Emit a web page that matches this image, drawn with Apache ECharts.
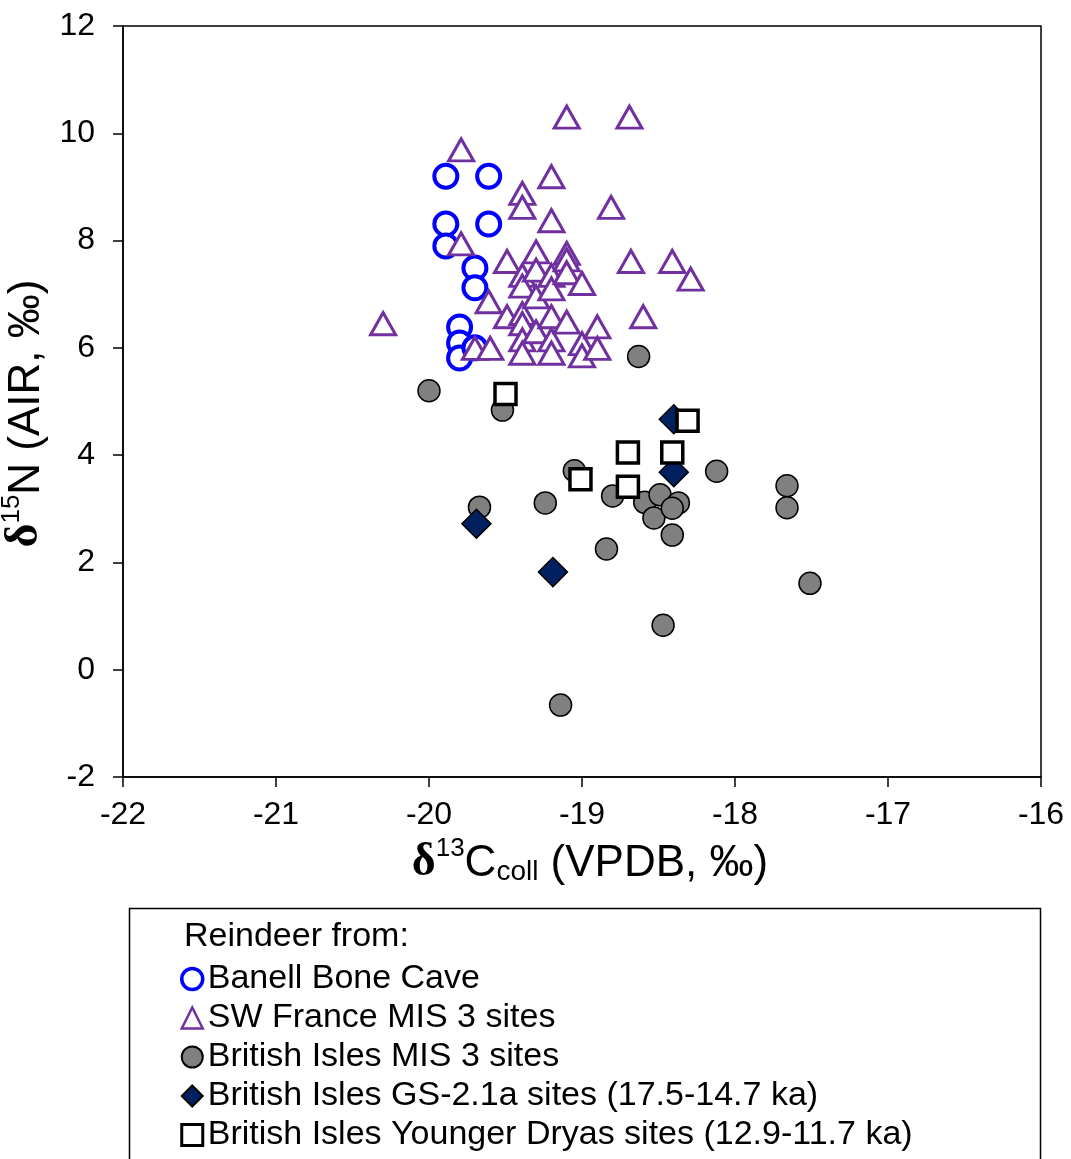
<!DOCTYPE html>
<html>
<head>
<meta charset="utf-8">
<script src="https://cdn.jsdelivr.net/npm/echarts@6/dist/echarts.min.js"></script>
<style>
  html, body { margin: 0; padding: 0; background: #fff; }
  #chart { width: 1071px; height: 1159px; }
</style>
</head>
<body>
<div id="chart"></div>
<script>
// [d13C, d15N]
const banwell = [
  [-19.89, 9.20], [-19.61, 9.20], [-19.89, 8.31], [-19.61, 8.31], [-19.89, 7.90],
  [-19.70, 7.49], [-19.70, 7.12], [-19.80, 6.39], [-19.80, 6.09], [-19.80, 5.81],
  [-19.70, 6.00]
];
const swFrance = [
  [-20.30, 6.45], [-19.79, 9.69], [-19.79, 7.94], [-19.70, 5.99], [-19.60, 5.99],
  [-19.61, 6.86], [-19.49, 7.61], [-19.49, 6.58], [-19.39, 8.88], [-19.39, 8.62],
  [-19.39, 7.35], [-19.39, 7.15], [-19.39, 6.64], [-19.39, 6.45], [-19.39, 6.15],
  [-19.39, 5.90], [-19.30, 7.79], [-19.30, 7.45], [-19.30, 6.95], [-19.30, 6.30],
  [-19.20, 9.19], [-19.20, 8.37], [-19.20, 7.35], [-19.20, 7.10], [-19.20, 6.58],
  [-19.20, 6.15], [-19.20, 5.90], [-19.10, 10.30], [-19.10, 7.76], [-19.10, 7.64],
  [-19.10, 7.40], [-19.10, 6.48], [-19.00, 7.20], [-19.00, 6.08], [-19.00, 5.85],
  [-18.90, 6.39], [-18.90, 5.99], [-18.81, 8.62], [-18.69, 10.30], [-18.68, 7.61],
  [-18.60, 6.58], [-18.41, 7.61], [-18.29, 7.28]
];
const britMIS3 = [
  [-18.63, 5.84], [-20.00, 5.20], [-19.52, 4.84], [-19.05, 3.71], [-19.67, 3.03],
  [-19.24, 3.11], [-18.80, 3.24], [-18.59, 3.12], [-18.49, 3.26], [-18.53, 2.83],
  [-18.37, 3.11], [-18.41, 3.01], [-18.41, 2.51], [-18.12, 3.70], [-17.66, 3.43],
  [-17.66, 3.02], [-17.51, 1.61], [-18.84, 2.25], [-18.47, 0.83], [-19.14, -0.66]
];
const gs21a = [
  [-19.69, 2.72], [-19.19, 1.82], [-18.40, 4.67], [-18.40, 3.68]
];
const youngerDryas = [
  [-19.50, 5.14], [-18.31, 4.64], [-18.70, 4.05], [-18.41, 4.05], [-19.01, 3.55],
  [-18.70, 3.41]
];
const seriesNames = [
  'Banell Bone Cave',
  'SW France MIS 3 sites',
  'British Isles MIS 3 sites',
  'British Isles GS-2.1a sites (17.5-14.7 ka)',
  'British Isles Younger Dryas sites (12.9-11.7 ka)'
];

const font = "'Liberation Sans', Arial, sans-serif";
const nameRich = {
  d: { fontFamily: "'Liberation Serif', serif", fontWeight: 'bold', fontSize: 46, color: '#000', verticalAlign: 'bottom', lineHeight: 50 },
  sup: { fontFamily: font, fontSize: 26, color: '#000', verticalAlign: 'top', lineHeight: 50 },
  sub: { fontFamily: font, fontSize: 28, color: '#000', verticalAlign: 'bottom', lineHeight: 46 },
  n: { fontFamily: font, fontSize: 44, color: '#000', verticalAlign: 'bottom', lineHeight: 50 }
};

const chart = echarts.init(document.getElementById('chart'));
chart.setOption({
  animation: false,
  backgroundColor: '#fff',
  textStyle: { fontFamily: font },
  grid: {
    left: 123, right: 30, top: 26, bottom: 382,
    outerBoundsMode: 'none', containLabel: false,
    show: true, borderColor: '#000', borderWidth: 1.5
  },
  xAxis: {
    type: 'value', min: -22, max: -16, interval: 1,
    axisLine: { onZero: false, lineStyle: { color: '#000', width: 1.5 } },
    axisTick: { length: 10, lineStyle: { color: '#000', width: 1.5 } },
    axisLabel: { fontSize: 32, color: '#000', margin: 22, fontFamily: font },
    splitLine: { show: false },
    name: '{d|δ}{sup|13}{n|C}{sub|coll}{n| (VPDB, ‰)}',
    nameLocation: 'middle', nameGap: 56,
    nameTextStyle: { rich: nameRich, padding: [0, 0, 0, 16] }
  },
  yAxis: {
    type: 'value', min: -2, max: 12, interval: 2,
    axisLine: { onZero: false, lineStyle: { color: '#000', width: 1.5 } },
    axisTick: { length: 10, lineStyle: { color: '#000', width: 1.5 } },
    axisLabel: { fontSize: 32, color: '#000', margin: 28, fontFamily: font },
    splitLine: { show: false },
    name: '{d|δ}{sup|15}{n|N (AIR, ‰)}',
    nameLocation: 'middle', nameGap: 58, nameRotate: 90,
    nameTextStyle: { rich: nameRich, padding: [0, 24, 0, 0] }
  },
  legend: {
    orient: 'vertical', left: 175, top: 957, height: 400,
    itemWidth: 21, itemHeight: 21, itemGap: 5,
    textStyle: { fontSize: 34, color: '#000', fontFamily: font },
    data: [
      { name: seriesNames[0], icon: 'circle', itemStyle: { borderWidth: 3.5 } },
      { name: seriesNames[1], icon: 'triangle', itemStyle: { borderWidth: 2.5 } },
      { name: seriesNames[2], icon: 'circle' },
      { name: seriesNames[3], icon: 'diamond' },
      { name: seriesNames[4], icon: 'rect', itemStyle: { borderWidth: 3 } }
    ]
  },
  graphic: [
    {
      type: 'rect', left: 127, top: 906,
      shape: { width: 911, height: 280 },
      style: { fill: 'none', stroke: '#000', lineWidth: 1.5 }
    },
    {
      type: 'text', left: 184, top: 920,
      style: { text: 'Reindeer from:', fontSize: 34, fontFamily: font, fill: '#000' }
    }
  ],
  series: [
    {
      name: seriesNames[0], type: 'scatter', data: banwell,
      symbol: 'circle', symbolSize: 23,
      itemStyle: { color: '#fff', borderColor: '#0000FF', borderWidth: 4, opacity: 1 }
    },
    {
      name: seriesNames[1], type: 'scatter', data: swFrance,
      symbol: 'triangle', symbolSize: [25, 22],
      itemStyle: { color: '#fff', borderColor: '#7030A0', borderWidth: 3, opacity: 1 }
    },
    {
      name: seriesNames[2], type: 'scatter', data: britMIS3,
      symbol: 'circle', symbolSize: 22,
      itemStyle: { color: '#808080', borderColor: '#000', borderWidth: 1.5, opacity: 1 }
    },
    {
      name: seriesNames[3], type: 'scatter', data: gs21a,
      symbol: 'diamond', symbolSize: 29,
      itemStyle: { color: '#002060', borderColor: '#000', borderWidth: 1.5, opacity: 1 }
    },
    {
      name: seriesNames[4], type: 'scatter', data: youngerDryas,
      symbol: 'rect', symbolSize: 21,
      itemStyle: { color: '#fff', borderColor: '#000', borderWidth: 3.5, opacity: 1 }
    }
  ]
});
</script>
</body>
</html>
